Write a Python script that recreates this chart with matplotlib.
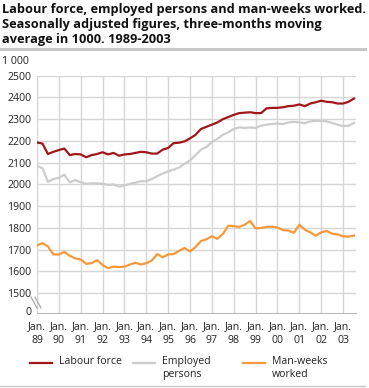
import numpy as np
import matplotlib
matplotlib.use("Agg")
import matplotlib.pyplot as plt
from matplotlib.lines import Line2D

plt.rcParams['font.family'] = ['Open Sans', 'DejaVu Sans']

# quarterly readings, Jan 1989 - Jul 2003
years = np.arange(59) * 0.25 + 1989.0

labour_force = [2193, 2188, 2140, 2150, 2158, 2165, 2135, 2140, 2138, 2125,
                2135, 2140, 2148, 2138, 2145, 2132, 2138, 2140, 2145, 2150,
                2148, 2142, 2142, 2160, 2168, 2190, 2192, 2198, 2212, 2228,
                2255, 2265, 2275, 2285, 2300, 2310, 2320, 2328, 2330, 2332,
                2328, 2328, 2350, 2352, 2352, 2355, 2360, 2362, 2368, 2360,
                2372, 2378, 2385, 2380, 2378, 2372, 2372, 2380, 2395]

employed = [2085, 2075, 2012, 2025, 2030, 2045, 2010, 2020, 2010, 2003,
            2005, 2005, 2003, 1998, 2000, 1990, 1995, 2003, 2008, 2015,
            2015, 2025, 2038, 2050, 2060, 2068, 2078, 2095, 2110, 2135,
            2160, 2172, 2195, 2210, 2228, 2240, 2255, 2262, 2260, 2262,
            2260, 2270, 2275, 2278, 2280, 2278, 2285, 2288, 2285, 2282,
            2290, 2293, 2292, 2290, 2283, 2275, 2268, 2270, 2283]

man_weeks = [1720, 1730, 1715, 1678, 1678, 1690, 1672, 1660, 1655, 1635,
             1638, 1652, 1630, 1615, 1622, 1620, 1622, 1632, 1640, 1632,
             1638, 1650, 1680, 1665, 1678, 1680, 1695, 1708, 1692, 1712,
             1740, 1748, 1762, 1750, 1772, 1810, 1808, 1805, 1815, 1832,
             1798, 1800, 1805, 1806, 1802, 1790, 1788, 1778, 1815, 1792,
             1780, 1764, 1780, 1786, 1774, 1770, 1762, 1760, 1765]

tick_years = list(range(1989, 2004))
tick_labels = ["Jan.\n%02d" % (y % 100) for y in tick_years]
y_ticks = [1418, 1500, 1600, 1700, 1800, 1900, 2000, 2100, 2200, 2300, 2400, 2500]
y_labels = ["0"] + [str(v) for v in y_ticks[1:]]

red = '#a1161a'
grey = '#cccccc'
orange = '#f7993a'
gridc = '#d6d6d6'
txt = '#222222'

W, H = 369, 388
fig = plt.figure(figsize=(W / 100, H / 100), dpi=100)
ax = fig.add_axes([37 / W, 1 - 313 / H, (356 - 37) / W, (313 - 75.7) / H])

ax.plot(years, employed, color=grey, lw=1.6)
ax.plot(years, labour_force, color=red, lw=1.6)
ax.plot(years, man_weeks, color=orange, lw=1.6)

ax.set_xlim(1989.0, 1989.0 + (356 - 37) / 21.86)
ax.set_ylim(1409, 2500)
ax.set_xticks(tick_years)
ax.set_xticklabels(tick_labels, fontsize=7.6, color=txt, linespacing=1.35)
ax.set_yticks(y_ticks)
ax.set_yticklabels(y_labels, fontsize=7.6, color=txt)
ax.tick_params(length=0, pad=4)
ax.tick_params(axis='x', pad=6)

for v in y_ticks[1:]:
    ax.axhline(v, color=gridc, lw=1, zorder=0)
for yv in tick_years:
    ax.axvline(yv, color=gridc, lw=1, zorder=0)
for s in ['top', 'right', 'left']:
    ax.spines[s].set_visible(False)
ax.spines['bottom'].set_color('#bbbbbb')

# axis break marks
for dx in (0, 4):
    fig.add_artist(Line2D([(31 + dx) / W, (37 + dx) / W],
                          [1 - 297 / H, 1 - 308 / H], color='#aaaaaa', lw=0.9))

fig.text(2 / W, 1 - 3 / H, "Labour force, employed persons and man-weeks worked.\n"
         "Seasonally adjusted figures, three-months moving\naverage in 1000. 1989-2003",
         fontsize=9.2, fontweight='bold', color='#111111', va='top', ha='left', linespacing=1.2)
fig.add_artist(Line2D([0, 365 / W], [1 - 49 / H, 1 - 49 / H], color='#c8c8c8', lw=2.2))
fig.text(2 / W, 1 - 61 / H, "1 000", fontsize=7.6, color=txt, va='center', ha='left')

# legend
items = [(30, red, "Labour force"), (133, grey, "Employed\npersons"),
         (243, orange, "Man-weeks\nworked")]
for x0, c, lab in items:
    fig.add_artist(Line2D([x0 / W, (x0 + 22) / W], [1 - 363 / H, 1 - 363 / H], color=c, lw=1.6))
    fig.text((x0 + 29) / W, 1 - 356 / H, lab, fontsize=7.6, color=txt, va='top', ha='left',
             linespacing=1.3)
fig.add_artist(Line2D([0, 365 / W], [1 - 386 / H, 1 - 386 / H], color='#c8c8c8', lw=1))

fig.savefig("out.png", dpi=100)
